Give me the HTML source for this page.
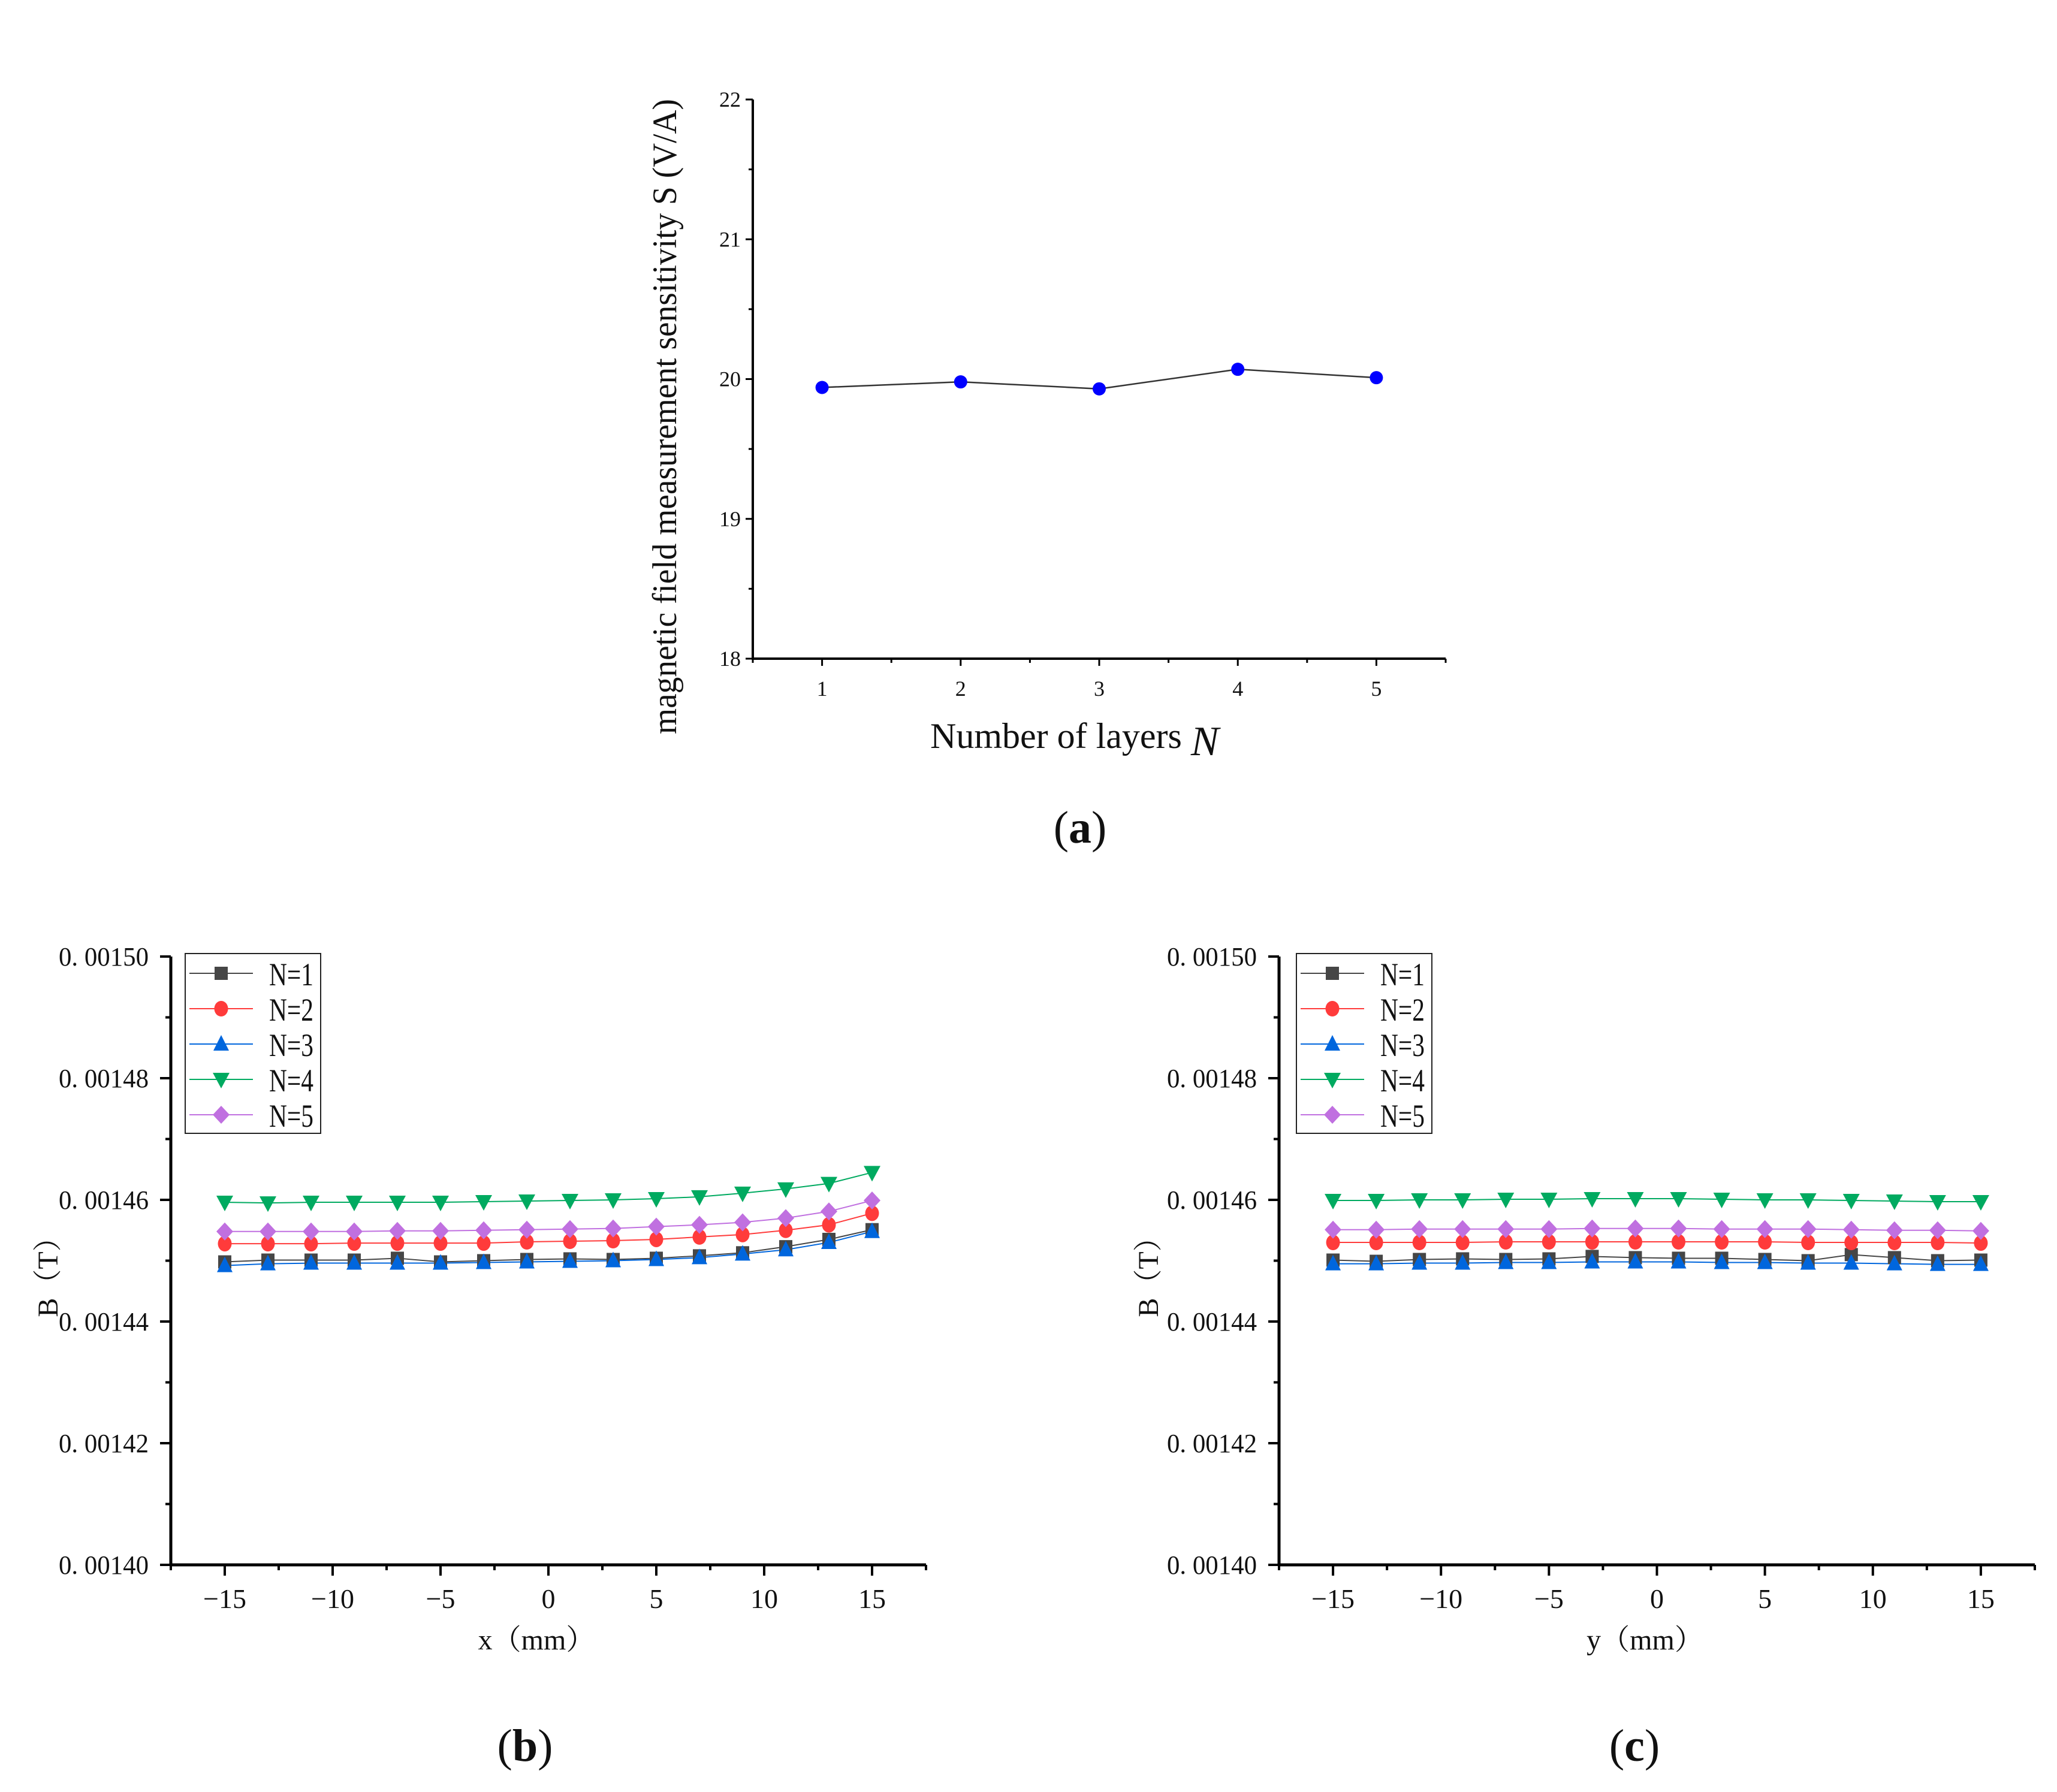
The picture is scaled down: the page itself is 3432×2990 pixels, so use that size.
<!DOCTYPE html>
<html><head><meta charset="utf-8"><style>
html,body{margin:0;padding:0;background:#fff;}
svg{display:block;}
text{font-family:"Liberation Serif","Noto Serif CJK SC",serif;fill:#111;}
</style></head><body>
<svg id="fig" width="3432" height="2990" viewBox="0 0 3432 2990" xmlns="http://www.w3.org/2000/svg">
<g id="ga"></g>
<g id="gb"></g>
<g id="gc"></g>
<text x="1802" y="1406" font-size="76" text-anchor="middle">(<tspan font-weight="bold">a</tspan>)</text>
<text x="876" y="2938" font-size="76" text-anchor="middle">(<tspan font-weight="bold">b</tspan>)</text>
<text x="2727" y="2938" font-size="76" text-anchor="middle">(<tspan font-weight="bold">c</tspan>)</text>
</svg>
<script>
// Chart (a) data
const layersA = [1,2,3,4,5];
const sensA = [19.94,19.98,19.93,20.07,20.01];
const ticksAy = [18,19,20,21,22];
// Chart (b) data
const posB = [-15,-13,-11,-9,-7,-5,-3,-1,1,3,5,7,9,11,13,15];
const b1 = [1449.8,1450.1,1450.1,1450.1,1450.4,1449.8,1450.0,1450.2,1450.3,1450.2,1450.4,1450.8,1451.3,1452.3,1453.5,1455.1];
const b2 = [1452.8,1452.8,1452.8,1452.9,1452.9,1452.9,1452.9,1453.1,1453.2,1453.3,1453.5,1453.9,1454.3,1455.0,1455.9,1457.8];
const b3 = [1449.2,1449.5,1449.6,1449.6,1449.6,1449.6,1449.7,1449.8,1449.9,1450.0,1450.2,1450.5,1451.1,1451.8,1453.0,1454.8];
const b4 = [1459.6,1459.5,1459.6,1459.6,1459.6,1459.6,1459.7,1459.8,1459.9,1460.0,1460.2,1460.5,1461.1,1461.8,1462.7,1464.5];
const b5 = [1454.8,1454.8,1454.8,1454.8,1454.9,1454.9,1455.0,1455.1,1455.2,1455.3,1455.6,1455.9,1456.3,1457.0,1458.1,1459.9];
// Chart (c) data
const posC = [-15,-13,-11,-9,-7,-5,-3,-1,1,3,5,7,9,11,13,15];
const c1 = [1450.1,1449.9,1450.2,1450.3,1450.2,1450.3,1450.7,1450.5,1450.4,1450.4,1450.2,1450.0,1451.0,1450.5,1450.0,1450.1];
const c2 = [1453.0,1453.0,1453.0,1453.0,1453.1,1453.1,1453.1,1453.1,1453.1,1453.1,1453.1,1453.0,1453.0,1453.0,1453.0,1452.9];
const c3 = [1449.5,1449.5,1449.6,1449.6,1449.7,1449.7,1449.8,1449.8,1449.8,1449.7,1449.7,1449.6,1449.6,1449.5,1449.4,1449.4];
const c4 = [1459.9,1459.9,1460.0,1460.0,1460.1,1460.1,1460.2,1460.2,1460.2,1460.1,1460.0,1460.0,1459.9,1459.8,1459.7,1459.7];
const c5 = [1455.1,1455.1,1455.2,1455.2,1455.2,1455.2,1455.3,1455.3,1455.3,1455.2,1455.2,1455.2,1455.1,1455.0,1455.0,1454.9];
const seriesNames = ['N=1','N=2','N=3','N=4','N=5'];
const ticksBx = [-15,-10,-5,0,5,10,15];
const ticksBy = [1400,1420,1440,1460,1480,1500];
const tickLabelsBy = ['0. 00140','0. 00142','0. 00144','0. 00146','0. 00148','0. 00150'];

const NS='http://www.w3.org/2000/svg';
function mk(parent,tag,attrs,txt){const e=document.createElementNS(NS,tag);for(const k in attrs)e.setAttribute(k,attrs[k]);if(txt!==undefined)e.textContent=txt;parent.appendChild(e);return e;}

// ---------- Chart A ----------
(function(){
const g=document.getElementById('ga');
const L=1256,R=2412,T=166,B=1099;
const sx=v=>L+(v-0.5)/5*(R-L);
const sy=v=>B-(v-18)/4*(B-T);
let e=mk(g,'line',{x1:L,y1:T,x2:L,y2:B+1,stroke:'#000','stroke-width':4});
 
e=mk(g,'line',{x1:L-2,y1:B,x2:R,y2:B,stroke:'#000','stroke-width':4});
 
for(let v=18;v<=22;v+=0.5){const y=sy(v);const major=Number.isInteger(v);
 mk(g,'line',{x1:L-(major?12:7),y1:y,x2:L,y2:y,stroke:'#000','stroke-width':3});}
ticksAy.forEach(v=>{e=mk(g,'text',{x:L-20,y:sy(v)+12,'font-size':36,'text-anchor':'end'},String(v));
  });
for(let v=0.5;v<=5.5;v+=0.5){const x=sx(v);const major=Number.isInteger(v);
 mk(g,'line',{x1:x,y1:B,x2:x,y2:B+(major?12:7),stroke:'#000','stroke-width':3});}
layersA.forEach(v=>{e=mk(g,'text',{x:sx(v),y:B+62,'font-size':36,'text-anchor':'middle'},String(v));
  });
e=mk(g,'polyline',{points:layersA.map((v,i)=>sx(v)+','+sy(sensA[i])).join(' '),fill:'none',stroke:'#333','stroke-width':2.5});
 
layersA.forEach((v,i)=>{e=mk(g,'circle',{cx:sx(v),cy:sy(sensA[i]),r:11,fill:'#0000ff'});
  });
e=mk(g,'text',{x:0,y:0,'font-size':57,'text-anchor':'middle',textLength:1060,lengthAdjust:'spacingAndGlyphs',transform:'translate(1128,'+(((75+560)/2)*2.189)+') rotate(-90)'},'magnetic field measurement sensitivity S (V/A)');
 
e=mk(g,'text',{x:1552,y:1248,'font-size':60,'text-anchor':'start'},'Number of layers ');
 
mk(e,'tspan',{'font-style':'italic','font-size':70,dy:12},'N');
})();

// ---------- Charts B & C ----------
const colors=['#464646','#ff3b3b','#0066dd','#00aa60','#c070e0'];
const markers=['square','circle','up','down','diamond'];
function marker(g,type,x,y,c){
 let e;
 if(type==='square') e=mk(g,'rect',{x:x-11,y:y-11,width:22,height:22,fill:c});
 else if(type==='circle') e=mk(g,'ellipse',{cx:x,cy:y,rx:11.5,ry:13,fill:c});
 else if(type==='up') e=mk(g,'polygon',{points:`${x},${y-15} ${x+13},${y+11} ${x-13},${y+11}`,fill:c});
 else if(type==='down') e=mk(g,'polygon',{points:`${x-14},${y-11} ${x+14},${y-11} ${x},${y+15}`,fill:c});
 else e=mk(g,'polygon',{points:`${x},${y-15} ${x+14},${y} ${x},${y+15} ${x-14},${y}`,fill:c});
 return e;
}
function chartB(id,L,R,xs,ser,xtitle,ytx,labelX,legL){
 const g=document.getElementById(id);
 const T=1596,B=2611;
 const sx=v=>L+(v+17.5)/35*(R-L);
 const sy=v=>B-(v-1400)/100*(B-T);
 let e=mk(g,'line',{x1:L,y1:T,x2:L,y2:B+2,stroke:'#000','stroke-width':5});
  
 e=mk(g,'line',{x1:L-2,y1:B,x2:R,y2:B,stroke:'#000','stroke-width':5});
  
 for(let v=1400;v<=1500;v+=10){const y=sy(v);const major=(v%20===0);
  mk(g,'line',{x1:L-(major?18:9),y1:y,x2:L,y2:y,stroke:'#000','stroke-width':4});}
 ticksBy.forEach((v,i)=>{e=mk(g,'text',{x:labelX,y:sy(v)+15,'font-size':44,textLength:150,lengthAdjust:'spacingAndGlyphs'},tickLabelsBy[i]);
   });
 for(let v=-17.5;v<=17.5;v+=2.5){const x=sx(v);const major=(v%5===0);
  mk(g,'line',{x1:x,y1:B,x2:x,y2:B+(major?18:9),stroke:'#000','stroke-width':4});}
 ticksBx.forEach(v=>{e=mk(g,'text',{x:sx(v),y:B+72,'font-size':46,'text-anchor':'middle'},v<0?'\u2212'+(-v):String(v));
   });
 ser.forEach((arr,k)=>{
  e=mk(g,'polyline',{points:xs.map((v,i)=>sx(v)+','+sy(arr[i])).join(' '),fill:'none',stroke:colors[k],'stroke-width':2});
   
 });
 ser.forEach((arr,k)=>{xs.forEach((v,i)=>{
  e=marker(g,markers[k],sx(v),sy(arr[i]),colors[k]);
   
 });});
 e=mk(g,'text',{x:(L+R)/2-20,y:2752,'font-size':48,'text-anchor':'middle'},xtitle);
  
 e=mk(g,'text',{x:0,y:0,'font-size':48,'text-anchor':'middle',transform:`translate(${ytx},2119) rotate(-90)`},'B（T）');
  
 // legend
 const lg=mk(g,'g',{});
  
 e=mk(lg,'rect',{x:legL,y:1591,width:226,height:300,fill:'#fff',stroke:'#222','stroke-width':2});
  
 seriesNames.forEach((n,k)=>{
  const y=1624+k*59;
  const eg=mk(lg,'g',{});
   
  mk(eg,'line',{x1:legL+7,y1:y,x2:legL+113,y2:y,stroke:colors[k],'stroke-width':2});
  marker(eg,markers[k],legL+60,y,colors[k]);
  mk(eg,'text',{x:legL+140,y:y+20,'font-size':54,textLength:74,lengthAdjust:'spacingAndGlyphs'},n);
 });
}
chartB('gb',285,1545,posB,[b1,b2,b3,b4,b5],'x（mm）',96,98,309);
chartB('gc',2134,3395,posC,[c1,c2,c3,c4,c5],'y（mm）',1932,1947,2163);
</script>
</body></html>
